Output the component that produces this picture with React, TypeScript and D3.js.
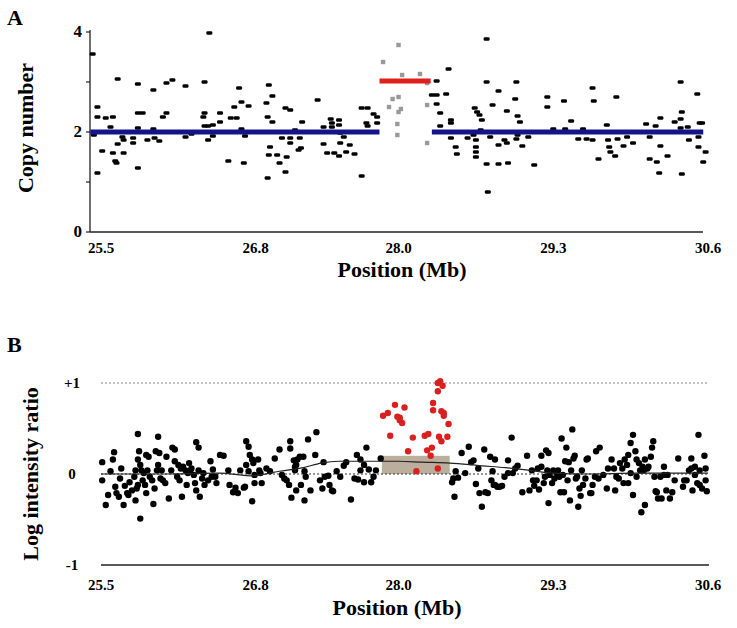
import React from 'react';
import * as d3 from 'd3';

// ---------- shared axis data ----------
const xDomain: [number, number] = [25.5, 30.6];
const xTicks = [25.5, 26.8, 28.0, 29.3, 30.6];
const xTickLabels = ['25.5', '26.8', '28.0', '29.3', '30.6'];

// ---------- panel A: copy number ----------
const cnTicks = [0, 1, 2, 3, 4];
const cnTickLabels = ['0', '', '2', '', '4'];

const cnProbes: [number, number][] = [
  [25.43,3.56],[25.47,2.5],[25.47,2.3],[25.47,1.18],[25.44,1.94],[25.51,1.62],[25.54,2.28],[25.60,2.3],[25.58,2.1],[25.64,3.06],
  [25.60,1.58],[25.64,1.76],[25.68,1.9],[25.69,1.58],[25.63,1.38],[25.62,1.42],[25.69,1.84],[25.77,1.78],[25.77,1.88],[25.81,2.96],
  [25.81,1.28],[25.81,2.38],[25.85,2.38],[25.81,2.08],[25.89,1.84],[25.94,2.84],[25.94,2.06],[25.95,1.88],[25.99,1.82],[26.02,2.3],
  [26.05,2.38],[26.05,2.98],[26.10,3.04],[26.21,1.9],[26.26,1.96],[26.21,2.92],[26.37,3.0],[26.36,2.3],[26.37,2.38],[26.37,2.12],
  [26.40,2.12],[26.41,3.98],[26.40,1.84],[26.44,1.92],[26.44,2.14],[26.50,2.38],[26.50,2.2],[26.57,1.42],[26.59,2.28],[26.62,2.5],
  [26.66,2.88],[26.68,2.6],[26.70,1.38],[26.64,2.28],[26.71,1.92],[26.68,2.06],[26.74,2.52],
  [26.91,2.94],[26.94,2.72],[26.89,2.58],[26.90,2.3],[26.94,2.2],[26.92,1.7],[26.91,1.54],[26.98,1.54],[26.90,1.08],[27.00,1.38],
  [27.05,2.48],[27.09,2.44],[27.06,1.5],[27.05,1.2],[27.02,1.88],[27.09,1.88],[27.13,2.04],[27.09,1.78],[27.17,1.88],[27.18,1.68],
  [27.16,1.64],[27.19,2.2],[27.32,2.64],[27.37,2.1],[27.37,1.76],[27.40,1.58],[27.43,2.26],[27.44,2.18],[27.44,2.1],[27.50,2.24],
  [27.50,2.14],[27.51,1.98],[27.51,1.78],[27.46,1.58],[27.50,1.52],[27.54,1.9],[27.56,1.6],[27.59,1.74],[27.63,1.56],[27.69,1.12],
  [27.69,2.48],[27.74,2.48],[27.73,2.18],[27.74,2.12],[27.79,2.36],[27.82,2.3],[27.82,2.18],
  [28.32,3.02],[28.42,3.26],[28.28,2.74],[28.32,2.74],[28.40,2.76],[28.32,2.56],[28.35,2.38],[28.35,2.12],[28.44,2.24],[28.44,2.18],
  [28.44,1.88],[28.48,1.7],[28.49,1.56],[28.58,1.88],[28.64,2.48],[28.66,2.4],[28.63,1.94],[28.65,1.84],[28.65,1.7],[28.65,1.6],
  [28.65,1.5],[28.74,1.36],[28.74,3.0],[28.75,0.8],[28.74,3.86],[28.70,2.24],[28.69,2.04],[28.68,2.34],
  [28.84,2.82],[28.79,2.54],[28.91,2.42],[28.98,2.66],[28.99,3.0],[29.00,2.32],[29.02,2.2],[29.00,1.94],[29.04,1.72],[28.99,1.86],
  [29.09,1.9],[28.89,1.84],[28.84,1.74],[28.91,1.78],[28.77,1.9],[28.84,1.36],[28.92,1.38],[29.14,1.34],[29.25,2.7],[29.25,2.5],
  [29.30,2.06],[29.39,2.62],[29.40,2.06],[29.45,2.22],[29.51,1.86],[29.58,1.86],[29.55,2.06],[29.63,2.88],[29.64,2.62],[29.63,1.84],
  [29.68,1.46],[29.75,2.14],[29.76,1.84],[29.77,1.7],[29.78,1.6],[29.82,1.52],[29.84,1.86],[29.83,2.7],[29.89,1.72],[29.92,1.9],
  [29.97,1.78],[30.08,2.16],[30.11,1.9],[30.11,1.46],[30.17,1.4],[30.16,2.12],[30.20,2.28],[30.20,1.72],[30.19,1.18],[30.26,1.52],
  [30.32,2.2],[30.37,3.0],[30.38,2.4],[30.37,2.26],[30.37,2.08],[30.38,1.16],[30.43,2.1],[30.44,1.84],[30.51,2.76],[30.53,2.18],
  [30.52,1.9],[30.52,1.7],[30.58,1.6],[30.56,1.4],[30.55,2.18],
];

const cnGainProbes: [number, number][] = [
  [27.87,3.4],[28.00,3.74],[28.03,3.14],[28.18,3.16],[28.24,2.98],[27.95,2.66],[28.00,2.7],[27.92,2.5],[28.02,2.46],[28.00,2.4],
  [28.24,2.54],[27.99,2.16],[27.99,1.94],[28.24,1.78],
];

const cnSegStart = [25.41, 28.28, 27.84];
const cnSegEnd = [27.84, 30.56, 28.27];
const cnSegValue = [2, 2, 3.02];
const cnSegGain = [false, false, true];

// ---------- panel B: log intensity ratio ----------
const lrTicks = [1, 0, -1];
const lrTickLabels = ['+1', '0', '-1'];

const lrProbes: [number, number][] = [
  [25.51,0.13],[25.51,-0.07],[25.54,-0.34],[25.56,-0.23],[25.58,0.03],[25.60,0.16],[25.61,0.24],[25.62,-0.14],[25.63,-0.21],[25.65,-0.25],
  [25.66,-0.05],[25.67,0.06],[25.69,-0.34],[25.70,-0.13],[25.72,-0.21],[25.73,-0.23],[25.74,-0.09],[25.76,-0.18],[25.78,-0.03],[25.79,0.04],
  [25.79,-0.29],[25.80,-0.16],[25.81,0.16],[25.81,0.44],[25.81,-0.12],[25.82,0.25],[25.83,0.10],[25.83,-0.49],[25.84,0.04],[25.85,-0.07],
  [25.86,0.01],[25.87,-0.12],[25.88,0.21],[25.88,-0.21],[25.89,0.04],[25.90,0.19],[25.91,-0.03],[25.93,-0.07],[25.94,-0.33],[25.95,-0.16],
  [25.96,0.25],[25.97,0.04],[25.98,0.10],[25.98,0.41],[25.99,0.23],[26.00,-0.05],[26.01,0.04],[26.02,-0.07],[26.04,-0.10],[26.05,0.19],
  [26.07,-0.27],[26.09,0.04],[26.10,0.29],[26.12,0.27],[26.12,0.14],[26.14,-0.03],[26.15,0.10],[26.16,-0.07],[26.17,0.06],[26.18,-0.25],
  [26.19,0.08],[26.21,0.04],[26.22,-0.12],[26.23,0.01],[26.24,0.12],[26.25,0.04],[26.26,0.06],[26.28,-0.01],[26.29,-0.10],[26.30,0.35],
  [26.30,-0.18],[26.32,0.04],[26.32,0.29],[26.33,-0.25],[26.35,-0.05],[26.36,0.01],[26.37,-0.12],[26.40,-0.07],[26.42,0.14],[26.43,-0.03],
  [26.44,0.05],[26.46,-0.03],[26.47,-0.10],[26.50,0.21],[26.53,0.20],[26.57,0.04],[26.58,-0.12],[26.61,-0.20],[26.63,-0.15],[26.65,-0.21],
  [26.67,0.04],[26.70,-0.15],[26.72,0.36],[26.74,0.30],[26.74,0.03],
  [26.75,0.21],[26.72,0.10],[26.71,-0.14],[26.77,0.16],[26.78,0.12],[26.82,0.16],[26.77,-0.30],[26.79,-0.01],[26.79,-0.10],[26.84,0.01],
  [26.85,-0.10],[26.83,0.04],[26.89,0.06],[26.92,0.03],[26.96,0.17],[27.00,0.27],[27.02,-0.01],[27.04,-0.05],[27.06,-0.07],[27.08,-0.12],
  [27.09,0.36],[27.09,0.28],[27.10,-0.26],[27.12,0.15],[27.13,0.08],[27.13,0.04],[27.14,0.10],[27.14,-0.18],[27.15,0.16],[27.17,0.19],
  [27.18,-0.12],[27.20,0.19],[27.21,-0.29],[27.21,0.03],[27.22,-0.03],[27.24,0.38],[27.26,-0.18],[27.30,0.21],[27.31,0.46],[27.34,-0.07],
  [27.36,-0.16],[27.37,0.13],[27.38,-0.03],[27.41,-0.02],[27.42,-0.12],[27.44,-0.18],[27.45,-0.19],[27.48,0.03],[27.51,-0.03],[27.54,0.09],
  [27.56,0.13],[27.60,-0.28],[27.63,-0.05],[27.65,0.21],[27.66,-0.06],[27.68,0.04],[27.68,0.16],[27.71,0.10],[27.71,-0.09],[27.73,0.29],
  [27.75,0.05],[27.77,-0.09],[27.79,-0.03],[27.81,0.04],[27.85,0.17],
  [28.45,-0.09],[28.46,-0.05],[28.48,0.03],[28.50,-0.04],[28.47,-0.25],[28.53,0.23],[28.56,0.01],[28.59,0.30],[28.61,0.13],[28.63,0.15],
  [28.65,-0.11],[28.67,0.06],[28.68,-0.21],[28.70,-0.36],[28.72,0.27],[28.73,-0.20],[28.75,-0.21],[28.77,0.19],[28.78,-0.07],[28.79,0.03],
  [28.80,-0.12],[28.81,0.16],[28.81,-0.12],[28.83,-0.14],[28.85,-0.14],[28.87,-0.13],[28.89,-0.03],[28.92,0.15],[28.92,0.01],[28.95,0.40],
  [28.96,0.01],[28.98,0.06],[29.00,0.09],[29.04,-0.20],[29.08,0.20],[29.10,-0.18],[29.12,0.04],[29.13,-0.07],[29.14,-0.13],[29.16,-0.07],
  [29.17,0.06],[29.18,-0.17],[29.20,0.20],[29.20,0.08],[29.22,-0.10],[29.23,-0.03],[29.24,0.26],[29.25,0.04],[29.26,-0.32],[29.26,0.23],
  [29.27,-0.01],[29.29,-0.10],[29.30,0.04],[29.31,-0.05],[29.33,0.01],[29.34,0.04],[29.35,-0.03],[29.36,-0.20],[29.37,0.39],[29.38,-0.01],
  [29.39,-0.20],[29.40,0.14],[29.41,0.29],[29.42,-0.07],[29.43,0.13],[29.44,-0.29],[29.45,0.04],[29.46,0.49],[29.47,0.17],[29.48,0.20],
  [29.49,-0.05],[29.50,-0.03],[29.51,-0.36],[29.52,-0.16],[29.53,-0.24],[29.54,0.04],[29.55,-0.12],[29.57,-0.05],[29.58,0.16],[29.59,0.17],
  [29.61,-0.21],[29.62,-0.21],[29.63,-0.12],[29.65,-0.03],[29.66,0.25],[29.68,-0.05],[29.69,0.29],[29.72,-0.01],[29.75,-0.16],[29.76,0.06],
  [29.79,0.16],[29.81,0.06],[29.82,-0.18],[29.83,-0.03],[29.85,-0.05],[29.86,0.12],[29.88,0.06],[29.89,-0.10],[29.90,0.16],[29.92,0.10],
  [29.93,0.21],[29.93,-0.10],[29.95,0.01],[29.95,0.34],[29.97,0.43],[29.97,-0.23],[29.99,0.25],[30.00,-0.03],[30.00,0.16],[30.02,0.12],
  [30.03,0.04],[30.04,-0.42],[30.05,0.08],[30.06,0.04],[30.07,-0.34],[30.07,0.16],[30.09,0.06],[30.10,0.08],[30.12,0.19],[30.13,0.29],
  [30.14,0.36],[30.15,-0.03],[30.16,-0.19],[30.17,-0.20],[30.18,-0.27],[30.20,-0.03],[30.21,-0.27],[30.23,-0.01],[30.23,0.08],[30.25,-0.18],
  [30.26,-0.01],[30.28,-0.27],[30.30,-0.20],[30.32,-0.07],[30.35,0.17],[30.39,-0.14],[30.40,-0.07],[30.42,-0.07],[30.44,0.04],[30.46,0.17],
  [30.46,0.06],[30.47,-0.18],[30.49,-0.01],[30.49,0.08],[30.51,-0.10],[30.52,0.43],[30.53,-0.12],[30.53,0.04],[30.55,-0.16],[30.57,0.20],
  [30.58,0.06],[30.58,-0.07],[30.59,-0.19],
];

const lrGainProbes: [number, number][] = [
  [27.87,0.64],[27.91,0.67],[27.97,0.76],[27.99,0.63],[28.01,0.59],[28.03,0.56],[28.01,0.62],[28.05,0.73],[27.93,0.42],[28.08,0.25],
  [28.12,0.40],[28.15,0.03],[28.22,0.42],[28.25,0.44],[28.24,0.26],[28.28,0.29],[28.27,0.20],[28.29,0.78],[28.29,0.70],[28.33,0.06],
  [28.33,0.91],[28.33,1.00],[28.35,1.02],[28.37,0.97],[28.36,0.69],[28.38,0.67],[28.38,0.64],[28.42,0.55],[28.34,0.41],[28.36,0.36],
  [28.41,0.41],
];

const lrSmoothPos = [25.5, 26.0, 26.5, 26.75, 27.0, 27.2, 27.35, 27.5, 27.7, 27.85, 28.0, 28.2, 28.43, 28.7, 28.9, 29.1, 29.3, 29.6, 30.0, 30.6];
const lrSmoothVal = [0.0, 0.0, 0.01, -0.02, 0.03, 0.07, 0.12, 0.14, 0.14, 0.14, 0.14, 0.13, 0.12, 0.09, 0.07, 0.04, 0.01, 0.0, 0.01, 0.01];

const gainStart = 27.86;
const gainEnd = 28.43;
const gainLow = 0;
const gainHigh = 0.2;

const FONT = "'Liberation Serif', 'Times New Roman', serif";

export default function App() {
  const x = d3.scaleLinear().domain(xDomain).range([101, 708]);
  const yA = d3.scaleLinear().domain([0, 4]).range([232, 32]);
  const yB = d3.scaleLinear().domain([-1, 1]).range([565, 383]);

  const smoothLine = d3
    .line<number>()
    .x((_, i) => x(lrSmoothPos[i]))
    .y((v) => yB(v))
    .curve(d3.curveMonotoneX);

  return (
    <svg
      width={737}
      height={628}
      style={{ position: 'absolute', left: 0, top: 0, background: '#fff' }}
      fontFamily={FONT}
    >
      <rect x={0} y={0} width={737} height={628} fill="#fff" />

      {/* ---------------- Panel A ---------------- */}
      <text x={7} y={25} fontSize={22} fontWeight="bold">A</text>
      <text
        transform={`translate(33,${(yA(0) + yA(4)) / 2 - 4}) rotate(-90)`}
        textAnchor="middle"
        fontSize={22}
        fontWeight="bold"
      >
        Copy number
      </text>

      {/* axes */}
      <line x1={90} x2={90} y1={yA(4) - 2} y2={yA(0)} stroke="#222" strokeWidth={1.3} />
      <line x1={90} x2={703} y1={yA(0)} y2={yA(0)} stroke="#222" strokeWidth={1.5} />
      {cnTicks.map((t, i) => (
        <g key={'cnt' + i}>
          <line x1={86} x2={90} y1={yA(t)} y2={yA(t)} stroke="#222" strokeWidth={1.2} />
          {cnTickLabels[i] && (
            <text x={82} y={yA(t) + 5} textAnchor="end" fontSize={17} fontWeight="bold">
              {cnTickLabels[i]}
            </text>
          )}
        </g>
      ))}
      {xTicks.map((t, i) => (
        <text key={'xa' + i} x={x(t)} y={253} textAnchor="middle" fontSize={15} fontWeight="bold">
          {xTickLabels[i]}
        </text>
      ))}
      <text x={402} y={277} textAnchor="middle" fontSize={22} fontWeight="bold">
        Position (Mb)
      </text>

      {/* probes */}
      {cnProbes.map(([p, v], i) => (
        <rect key={'cp' + i} x={x(p) - 3} y={yA(v) - 1.8} width={6} height={3.6} rx={1.4} fill="#000" />
      ))}
      {cnGainProbes.map(([p, v], i) => (
        <rect key={'cg' + i} x={x(p) - 2.2} y={yA(v) - 2.2} width={4.4} height={4.4} fill="#999" />
      ))}
      {cnSegStart.map((s, i) => (
        <line
          key={'seg' + i}
          x1={x(s)}
          x2={x(cnSegEnd[i])}
          y1={yA(cnSegValue[i])}
          y2={yA(cnSegValue[i])}
          stroke={cnSegGain[i] ? '#e0201c' : '#14148a'}
          strokeWidth={5}
        />
      ))}

      {/* ---------------- Panel B ---------------- */}
      <text x={7} y={352} fontSize={22} fontWeight="bold">B</text>
      <text
        transform={`translate(38,${yB(0)}) rotate(-90)`}
        textAnchor="middle"
        fontSize={22}
        fontWeight="bold"
      >
        Log intensity ratio
      </text>
      {lrTicks.map((t, i) => (
        <text key={'lt' + i} x={72} y={yB(t) + 5} textAnchor="middle" fontSize={15} fontWeight="bold">
          {lrTickLabels[i]}
        </text>
      ))}
      <line x1={101} x2={708} y1={yB(1)} y2={yB(1)} stroke="#888" strokeWidth={1} strokeDasharray="2,2" />
      <line x1={101} x2={709} y1={yB(-1)} y2={yB(-1)} stroke="#222" strokeWidth={1.5} />
      {xTicks.map((t, i) => (
        <text key={'xb' + i} x={x(t)} y={590} textAnchor="middle" fontSize={15} fontWeight="bold">
          {xTickLabels[i]}
        </text>
      ))}
      <text x={397} y={615} textAnchor="middle" fontSize={22} fontWeight="bold">
        Position (Mb)
      </text>

      <rect
        x={x(gainStart)}
        y={yB(gainHigh)}
        width={x(gainEnd) - x(gainStart)}
        height={yB(gainLow) - yB(gainHigh)}
        fill="#bcae9d"
      />
      <line x1={101} x2={708} y1={yB(0)} y2={yB(0)} stroke="#333" strokeWidth={1} strokeDasharray="2,2" />

      {lrProbes.map(([p, v], i) => (
        <circle key={'lp' + i} cx={x(p)} cy={yB(v)} r={3.2} fill="#000" />
      ))}
      <path d={smoothLine(lrSmoothVal) || ''} fill="none" stroke="#222" strokeWidth={1.2} />
      {lrGainProbes.map(([p, v], i) => (
        <circle key={'lg' + i} cx={x(p)} cy={yB(v)} r={3.2} fill="#d9201e" />
      ))}
    </svg>
  );
}
